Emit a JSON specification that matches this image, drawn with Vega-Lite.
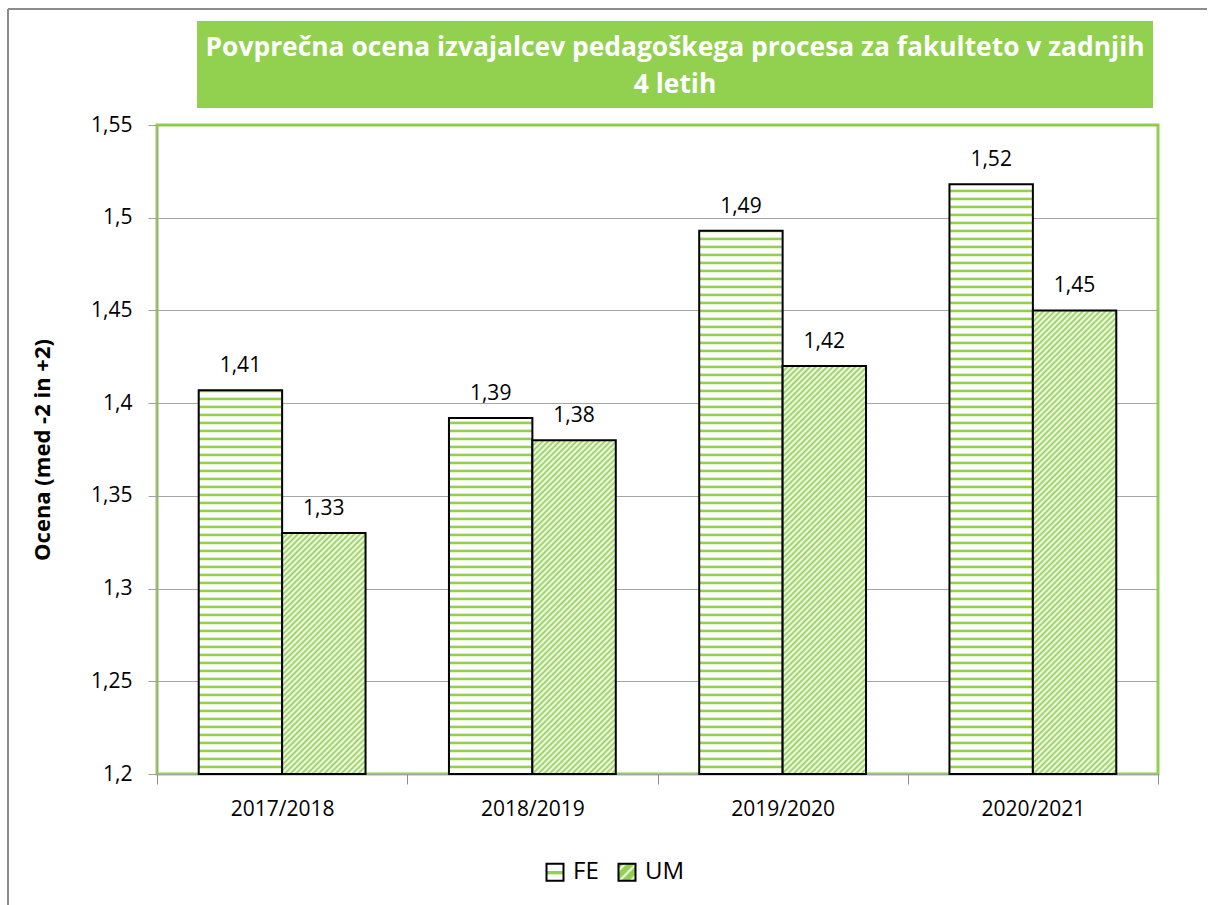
{
"$schema":"https://vega.github.io/schema/vega-lite/v6.json",
"width":1001,"height":649,
"padding":{"left":7,"top":7,"right":0,"bottom":0},
"background":"white",
"params":[
{"name":"feStops","value":[
{"offset":0.26,"color":"#92d050"},{"offset":0.262,"color":"#92d050"},{"offset":0.2635,"color":"#fff"},{"offset":0.269,"color":"#fff"},
{"offset":0.27,"color":"#92d050"},{"offset":0.272,"color":"#92d050"},{"offset":0.2735,"color":"#fff"},{"offset":0.279,"color":"#fff"},
{"offset":0.28,"color":"#92d050"},{"offset":0.282,"color":"#92d050"},{"offset":0.2835,"color":"#fff"},{"offset":0.289,"color":"#fff"},
{"offset":0.29,"color":"#92d050"},{"offset":0.292,"color":"#92d050"},{"offset":0.2935,"color":"#fff"},{"offset":0.299,"color":"#fff"},
{"offset":0.30,"color":"#92d050"},{"offset":0.302,"color":"#92d050"},{"offset":0.3035,"color":"#fff"},{"offset":0.309,"color":"#fff"},
{"offset":0.31,"color":"#92d050"},{"offset":0.312,"color":"#92d050"},{"offset":0.3135,"color":"#fff"},{"offset":0.319,"color":"#fff"},
{"offset":0.32,"color":"#92d050"},{"offset":0.322,"color":"#92d050"},{"offset":0.3235,"color":"#fff"},{"offset":0.329,"color":"#fff"},
{"offset":0.33,"color":"#92d050"},{"offset":0.332,"color":"#92d050"},{"offset":0.3335,"color":"#fff"},{"offset":0.339,"color":"#fff"},
{"offset":0.34,"color":"#92d050"},{"offset":0.342,"color":"#92d050"},{"offset":0.3435,"color":"#fff"},{"offset":0.349,"color":"#fff"},
{"offset":0.35,"color":"#92d050"},{"offset":0.352,"color":"#92d050"},{"offset":0.3535,"color":"#fff"},{"offset":0.359,"color":"#fff"},
{"offset":0.36,"color":"#92d050"},{"offset":0.362,"color":"#92d050"},{"offset":0.3635,"color":"#fff"},{"offset":0.369,"color":"#fff"},
{"offset":0.37,"color":"#92d050"},{"offset":0.372,"color":"#92d050"},{"offset":0.3735,"color":"#fff"},{"offset":0.379,"color":"#fff"},
{"offset":0.38,"color":"#92d050"},{"offset":0.382,"color":"#92d050"},{"offset":0.3835,"color":"#fff"},{"offset":0.389,"color":"#fff"},
{"offset":0.39,"color":"#92d050"},{"offset":0.392,"color":"#92d050"},{"offset":0.3935,"color":"#fff"},{"offset":0.399,"color":"#fff"},
{"offset":0.40,"color":"#92d050"},{"offset":0.402,"color":"#92d050"},{"offset":0.4035,"color":"#fff"},{"offset":0.409,"color":"#fff"},
{"offset":0.41,"color":"#92d050"},{"offset":0.412,"color":"#92d050"},{"offset":0.4135,"color":"#fff"},{"offset":0.419,"color":"#fff"},
{"offset":0.42,"color":"#92d050"},{"offset":0.422,"color":"#92d050"},{"offset":0.4235,"color":"#fff"},{"offset":0.429,"color":"#fff"},
{"offset":0.43,"color":"#92d050"},{"offset":0.432,"color":"#92d050"},{"offset":0.4335,"color":"#fff"},{"offset":0.439,"color":"#fff"},
{"offset":0.44,"color":"#92d050"},{"offset":0.442,"color":"#92d050"},{"offset":0.4435,"color":"#fff"},{"offset":0.449,"color":"#fff"},
{"offset":0.45,"color":"#92d050"},{"offset":0.452,"color":"#92d050"},{"offset":0.4535,"color":"#fff"},{"offset":0.459,"color":"#fff"},
{"offset":0.46,"color":"#92d050"},{"offset":0.462,"color":"#92d050"},{"offset":0.4635,"color":"#fff"},{"offset":0.469,"color":"#fff"},
{"offset":0.47,"color":"#92d050"},{"offset":0.472,"color":"#92d050"},{"offset":0.4735,"color":"#fff"},{"offset":0.479,"color":"#fff"},
{"offset":0.48,"color":"#92d050"},{"offset":0.482,"color":"#92d050"},{"offset":0.4835,"color":"#fff"},{"offset":0.489,"color":"#fff"},
{"offset":0.49,"color":"#92d050"},{"offset":0.492,"color":"#92d050"},{"offset":0.4935,"color":"#fff"},{"offset":0.499,"color":"#fff"},
{"offset":0.50,"color":"#92d050"},{"offset":0.502,"color":"#92d050"},{"offset":0.5035,"color":"#fff"},{"offset":0.509,"color":"#fff"},
{"offset":0.51,"color":"#92d050"},{"offset":0.512,"color":"#92d050"},{"offset":0.5135,"color":"#fff"},{"offset":0.519,"color":"#fff"},
{"offset":0.52,"color":"#92d050"},{"offset":0.522,"color":"#92d050"},{"offset":0.5235,"color":"#fff"},{"offset":0.529,"color":"#fff"},
{"offset":0.53,"color":"#92d050"},{"offset":0.532,"color":"#92d050"},{"offset":0.5335,"color":"#fff"},{"offset":0.539,"color":"#fff"},
{"offset":0.54,"color":"#92d050"},{"offset":0.542,"color":"#92d050"},{"offset":0.5435,"color":"#fff"},{"offset":0.549,"color":"#fff"},
{"offset":0.55,"color":"#92d050"},{"offset":0.552,"color":"#92d050"},{"offset":0.5535,"color":"#fff"},{"offset":0.559,"color":"#fff"},
{"offset":0.56,"color":"#92d050"},{"offset":0.562,"color":"#92d050"},{"offset":0.5635,"color":"#fff"},{"offset":0.569,"color":"#fff"},
{"offset":0.57,"color":"#92d050"},{"offset":0.572,"color":"#92d050"},{"offset":0.5735,"color":"#fff"},{"offset":0.579,"color":"#fff"},
{"offset":0.58,"color":"#92d050"},{"offset":0.582,"color":"#92d050"},{"offset":0.5835,"color":"#fff"},{"offset":0.589,"color":"#fff"},
{"offset":0.59,"color":"#92d050"},{"offset":0.592,"color":"#92d050"},{"offset":0.5935,"color":"#fff"},{"offset":0.599,"color":"#fff"},
{"offset":0.60,"color":"#92d050"},{"offset":0.602,"color":"#92d050"},{"offset":0.6035,"color":"#fff"},{"offset":0.609,"color":"#fff"},
{"offset":0.61,"color":"#92d050"},{"offset":0.612,"color":"#92d050"},{"offset":0.6135,"color":"#fff"},{"offset":0.619,"color":"#fff"},
{"offset":0.62,"color":"#92d050"},{"offset":0.622,"color":"#92d050"},{"offset":0.6235,"color":"#fff"},{"offset":0.629,"color":"#fff"},
{"offset":0.63,"color":"#92d050"},{"offset":0.632,"color":"#92d050"},{"offset":0.6335,"color":"#fff"},{"offset":0.639,"color":"#fff"},
{"offset":0.64,"color":"#92d050"},{"offset":0.642,"color":"#92d050"},{"offset":0.6435,"color":"#fff"},{"offset":0.649,"color":"#fff"},
{"offset":0.65,"color":"#92d050"},{"offset":0.652,"color":"#92d050"},{"offset":0.6535,"color":"#fff"},{"offset":0.659,"color":"#fff"},
{"offset":0.66,"color":"#92d050"},{"offset":0.662,"color":"#92d050"},{"offset":0.6635,"color":"#fff"},{"offset":0.669,"color":"#fff"},
{"offset":0.67,"color":"#92d050"},{"offset":0.672,"color":"#92d050"},{"offset":0.6735,"color":"#fff"},{"offset":0.679,"color":"#fff"},
{"offset":0.68,"color":"#92d050"},{"offset":0.682,"color":"#92d050"},{"offset":0.6835,"color":"#fff"},{"offset":0.689,"color":"#fff"},
{"offset":0.69,"color":"#92d050"},{"offset":0.692,"color":"#92d050"},{"offset":0.6935,"color":"#fff"},{"offset":0.699,"color":"#fff"},
{"offset":0.70,"color":"#92d050"},{"offset":0.702,"color":"#92d050"},{"offset":0.7035,"color":"#fff"},{"offset":0.709,"color":"#fff"},
{"offset":0.71,"color":"#92d050"},{"offset":0.712,"color":"#92d050"},{"offset":0.7135,"color":"#fff"},{"offset":0.719,"color":"#fff"},
{"offset":0.72,"color":"#92d050"},{"offset":0.722,"color":"#92d050"},{"offset":0.7235,"color":"#fff"},{"offset":0.729,"color":"#fff"},
{"offset":0.73,"color":"#92d050"},{"offset":0.732,"color":"#92d050"},{"offset":0.7335,"color":"#fff"},{"offset":0.739,"color":"#fff"},
{"offset":0.74,"color":"#92d050"},{"offset":0.742,"color":"#92d050"},{"offset":0.7435,"color":"#fff"},{"offset":0.749,"color":"#fff"},
{"offset":0.75,"color":"#92d050"},{"offset":0.752,"color":"#92d050"},{"offset":0.7535,"color":"#fff"},{"offset":0.759,"color":"#fff"},
{"offset":0.76,"color":"#92d050"},{"offset":0.762,"color":"#92d050"},{"offset":0.7635,"color":"#fff"},{"offset":0.769,"color":"#fff"},
{"offset":0.77,"color":"#92d050"},{"offset":0.772,"color":"#92d050"},{"offset":0.7735,"color":"#fff"},{"offset":0.779,"color":"#fff"},
{"offset":0.78,"color":"#92d050"},{"offset":0.782,"color":"#92d050"},{"offset":0.7835,"color":"#fff"},{"offset":0.789,"color":"#fff"},
{"offset":0.79,"color":"#92d050"},{"offset":0.792,"color":"#92d050"},{"offset":0.7935,"color":"#fff"},{"offset":0.799,"color":"#fff"},
{"offset":0.80,"color":"#92d050"},{"offset":0.802,"color":"#92d050"},{"offset":0.8035,"color":"#fff"},{"offset":0.809,"color":"#fff"},
{"offset":0.81,"color":"#92d050"},{"offset":0.812,"color":"#92d050"},{"offset":0.8135,"color":"#fff"},{"offset":0.819,"color":"#fff"},
{"offset":0.82,"color":"#92d050"},{"offset":0.822,"color":"#92d050"},{"offset":0.8235,"color":"#fff"},{"offset":0.829,"color":"#fff"},
{"offset":0.83,"color":"#92d050"},{"offset":0.832,"color":"#92d050"},{"offset":0.8335,"color":"#fff"},{"offset":0.839,"color":"#fff"},
{"offset":0.84,"color":"#92d050"},{"offset":0.842,"color":"#92d050"},{"offset":0.8435,"color":"#fff"},{"offset":0.849,"color":"#fff"},
{"offset":0.85,"color":"#92d050"},{"offset":0.852,"color":"#92d050"},{"offset":0.8535,"color":"#fff"},{"offset":0.859,"color":"#fff"},
{"offset":0.86,"color":"#92d050"},{"offset":0.862,"color":"#92d050"},{"offset":0.8635,"color":"#fff"},{"offset":0.869,"color":"#fff"},
{"offset":0.87,"color":"#92d050"},{"offset":0.872,"color":"#92d050"},{"offset":0.8735,"color":"#fff"},{"offset":0.879,"color":"#fff"},
{"offset":0.88,"color":"#92d050"},{"offset":0.882,"color":"#92d050"},{"offset":0.8835,"color":"#fff"},{"offset":0.889,"color":"#fff"},
{"offset":0.89,"color":"#92d050"},{"offset":0.892,"color":"#92d050"},{"offset":0.8935,"color":"#fff"},{"offset":0.899,"color":"#fff"},
{"offset":0.90,"color":"#92d050"},{"offset":0.902,"color":"#92d050"},{"offset":0.9035,"color":"#fff"},{"offset":0.909,"color":"#fff"},
{"offset":0.91,"color":"#92d050"},{"offset":0.912,"color":"#92d050"},{"offset":0.9135,"color":"#fff"},{"offset":0.919,"color":"#fff"},
{"offset":0.92,"color":"#92d050"},{"offset":0.922,"color":"#92d050"},{"offset":0.9235,"color":"#fff"},{"offset":0.929,"color":"#fff"},
{"offset":0.93,"color":"#92d050"},{"offset":0.932,"color":"#92d050"},{"offset":0.9335,"color":"#fff"},{"offset":0.939,"color":"#fff"},
{"offset":0.94,"color":"#92d050"},{"offset":0.942,"color":"#92d050"},{"offset":0.9435,"color":"#fff"},{"offset":0.949,"color":"#fff"},
{"offset":0.95,"color":"#92d050"},{"offset":0.952,"color":"#92d050"},{"offset":0.9535,"color":"#fff"},{"offset":0.959,"color":"#fff"},
{"offset":0.96,"color":"#92d050"},{"offset":0.962,"color":"#92d050"},{"offset":0.9635,"color":"#fff"},{"offset":0.969,"color":"#fff"},
{"offset":0.97,"color":"#92d050"},{"offset":0.972,"color":"#92d050"},{"offset":0.9735,"color":"#fff"},{"offset":0.979,"color":"#fff"},
{"offset":0.98,"color":"#92d050"},{"offset":0.982,"color":"#92d050"},{"offset":0.9835,"color":"#fff"},{"offset":0.989,"color":"#fff"},
{"offset":0.99,"color":"#92d050"},{"offset":0.992,"color":"#92d050"},{"offset":0.9935,"color":"#fff"},{"offset":1,"color":"#fff"}
]},
{"name":"umStops","value":[
{"offset":0,"color":"#92d050"},{"offset":0.005,"color":"#fff"},{"offset":0.01,"color":"#92d050"},{"offset":0.015,"color":"#fff"},
{"offset":0.02,"color":"#92d050"},{"offset":0.025,"color":"#fff"},{"offset":0.03,"color":"#92d050"},{"offset":0.035,"color":"#fff"},
{"offset":0.04,"color":"#92d050"},{"offset":0.045,"color":"#fff"},{"offset":0.05,"color":"#92d050"},{"offset":0.055,"color":"#fff"},
{"offset":0.06,"color":"#92d050"},{"offset":0.065,"color":"#fff"},{"offset":0.07,"color":"#92d050"},{"offset":0.075,"color":"#fff"},
{"offset":0.08,"color":"#92d050"},{"offset":0.085,"color":"#fff"},{"offset":0.09,"color":"#92d050"},{"offset":0.095,"color":"#fff"},
{"offset":0.10,"color":"#92d050"},{"offset":0.105,"color":"#fff"},{"offset":0.11,"color":"#92d050"},{"offset":0.115,"color":"#fff"},
{"offset":0.12,"color":"#92d050"},{"offset":0.125,"color":"#fff"},{"offset":0.13,"color":"#92d050"},{"offset":0.135,"color":"#fff"},
{"offset":0.14,"color":"#92d050"},{"offset":0.145,"color":"#fff"},{"offset":0.15,"color":"#92d050"},{"offset":0.155,"color":"#fff"},
{"offset":0.16,"color":"#92d050"},{"offset":0.165,"color":"#fff"},{"offset":0.17,"color":"#92d050"},{"offset":0.175,"color":"#fff"},
{"offset":0.18,"color":"#92d050"},{"offset":0.185,"color":"#fff"},{"offset":0.19,"color":"#92d050"},{"offset":0.195,"color":"#fff"},
{"offset":0.20,"color":"#92d050"},{"offset":0.205,"color":"#fff"},{"offset":0.21,"color":"#92d050"},{"offset":0.215,"color":"#fff"},
{"offset":0.22,"color":"#92d050"},{"offset":0.225,"color":"#fff"},{"offset":0.23,"color":"#92d050"},{"offset":0.235,"color":"#fff"},
{"offset":0.24,"color":"#92d050"},{"offset":0.245,"color":"#fff"},{"offset":0.25,"color":"#92d050"},{"offset":0.255,"color":"#fff"},
{"offset":0.26,"color":"#92d050"},{"offset":0.265,"color":"#fff"},{"offset":0.27,"color":"#92d050"},{"offset":0.275,"color":"#fff"},
{"offset":0.28,"color":"#92d050"},{"offset":0.285,"color":"#fff"},{"offset":0.29,"color":"#92d050"},{"offset":0.295,"color":"#fff"},
{"offset":0.30,"color":"#92d050"},{"offset":0.305,"color":"#fff"},{"offset":0.31,"color":"#92d050"},{"offset":0.315,"color":"#fff"},
{"offset":0.32,"color":"#92d050"},{"offset":0.325,"color":"#fff"},{"offset":0.33,"color":"#92d050"},{"offset":0.335,"color":"#fff"},
{"offset":0.34,"color":"#92d050"},{"offset":0.345,"color":"#fff"},{"offset":0.35,"color":"#92d050"},{"offset":0.355,"color":"#fff"},
{"offset":0.36,"color":"#92d050"},{"offset":0.365,"color":"#fff"},{"offset":0.37,"color":"#92d050"},{"offset":0.375,"color":"#fff"},
{"offset":0.38,"color":"#92d050"},{"offset":0.385,"color":"#fff"},{"offset":0.39,"color":"#92d050"},{"offset":0.395,"color":"#fff"},
{"offset":0.40,"color":"#92d050"},{"offset":0.405,"color":"#fff"},{"offset":0.41,"color":"#92d050"},{"offset":0.415,"color":"#fff"},
{"offset":0.42,"color":"#92d050"},{"offset":0.425,"color":"#fff"},{"offset":0.43,"color":"#92d050"},{"offset":0.435,"color":"#fff"},
{"offset":0.44,"color":"#92d050"},{"offset":0.445,"color":"#fff"},{"offset":0.45,"color":"#92d050"},{"offset":0.455,"color":"#fff"},
{"offset":0.46,"color":"#92d050"},{"offset":0.465,"color":"#fff"},{"offset":0.47,"color":"#92d050"},{"offset":0.475,"color":"#fff"},
{"offset":0.48,"color":"#92d050"},{"offset":0.485,"color":"#fff"},{"offset":0.49,"color":"#92d050"},{"offset":0.495,"color":"#fff"},
{"offset":0.50,"color":"#92d050"},{"offset":0.505,"color":"#fff"},{"offset":0.51,"color":"#92d050"},{"offset":0.515,"color":"#fff"},
{"offset":0.52,"color":"#92d050"},{"offset":0.525,"color":"#fff"},{"offset":0.53,"color":"#92d050"},{"offset":0.535,"color":"#fff"},
{"offset":0.54,"color":"#92d050"},{"offset":0.545,"color":"#fff"},{"offset":0.55,"color":"#92d050"},{"offset":0.555,"color":"#fff"},
{"offset":0.56,"color":"#92d050"},{"offset":0.565,"color":"#fff"},{"offset":0.57,"color":"#92d050"},{"offset":0.575,"color":"#fff"},
{"offset":0.58,"color":"#92d050"},{"offset":0.585,"color":"#fff"},{"offset":0.59,"color":"#92d050"},{"offset":0.595,"color":"#fff"},
{"offset":0.60,"color":"#92d050"},{"offset":0.605,"color":"#fff"},{"offset":0.61,"color":"#92d050"},{"offset":0.615,"color":"#fff"},
{"offset":0.62,"color":"#92d050"},{"offset":0.625,"color":"#fff"},{"offset":0.63,"color":"#92d050"},{"offset":0.635,"color":"#fff"},
{"offset":0.64,"color":"#92d050"},{"offset":0.645,"color":"#fff"},{"offset":0.65,"color":"#92d050"},{"offset":0.655,"color":"#fff"},
{"offset":0.66,"color":"#92d050"},{"offset":0.665,"color":"#fff"},{"offset":0.67,"color":"#92d050"},{"offset":0.675,"color":"#fff"},
{"offset":0.68,"color":"#92d050"},{"offset":0.685,"color":"#fff"},{"offset":0.69,"color":"#92d050"},{"offset":0.695,"color":"#fff"},
{"offset":0.70,"color":"#92d050"},{"offset":0.705,"color":"#fff"},{"offset":0.71,"color":"#92d050"},{"offset":0.715,"color":"#fff"},
{"offset":0.72,"color":"#92d050"},{"offset":0.725,"color":"#fff"},{"offset":0.73,"color":"#92d050"},{"offset":0.735,"color":"#fff"},
{"offset":0.74,"color":"#92d050"},{"offset":0.745,"color":"#fff"},{"offset":0.75,"color":"#92d050"},{"offset":0.755,"color":"#fff"},
{"offset":0.76,"color":"#92d050"},{"offset":0.765,"color":"#fff"},{"offset":0.77,"color":"#92d050"},{"offset":0.775,"color":"#fff"},
{"offset":0.78,"color":"#92d050"},{"offset":0.785,"color":"#fff"},{"offset":0.79,"color":"#92d050"},{"offset":0.795,"color":"#fff"},
{"offset":0.80,"color":"#92d050"},{"offset":0.805,"color":"#fff"},{"offset":0.81,"color":"#92d050"},{"offset":0.815,"color":"#fff"},
{"offset":0.82,"color":"#92d050"},{"offset":0.825,"color":"#fff"},{"offset":0.83,"color":"#92d050"},{"offset":0.835,"color":"#fff"},
{"offset":0.84,"color":"#92d050"},{"offset":0.845,"color":"#fff"},{"offset":0.85,"color":"#92d050"},{"offset":0.855,"color":"#fff"},
{"offset":0.86,"color":"#92d050"},{"offset":0.865,"color":"#fff"},{"offset":0.87,"color":"#92d050"},{"offset":0.875,"color":"#fff"},
{"offset":0.88,"color":"#92d050"},{"offset":0.885,"color":"#fff"},{"offset":0.89,"color":"#92d050"},{"offset":0.895,"color":"#fff"},
{"offset":0.90,"color":"#92d050"},{"offset":0.905,"color":"#fff"},{"offset":0.91,"color":"#92d050"},{"offset":0.915,"color":"#fff"},
{"offset":0.92,"color":"#92d050"},{"offset":0.925,"color":"#fff"},{"offset":0.93,"color":"#92d050"},{"offset":0.935,"color":"#fff"},
{"offset":0.94,"color":"#92d050"},{"offset":0.945,"color":"#fff"},{"offset":0.95,"color":"#92d050"},{"offset":0.955,"color":"#fff"},
{"offset":0.96,"color":"#92d050"},{"offset":0.965,"color":"#fff"},{"offset":0.97,"color":"#92d050"},{"offset":0.975,"color":"#fff"},
{"offset":0.98,"color":"#92d050"},{"offset":0.985,"color":"#fff"},{"offset":0.99,"color":"#92d050"},{"offset":0.995,"color":"#fff"},
{"offset":1,"color":"#92d050"}
]}
],
"data":{"values":[
{"yr":"2017/2018","s":"FE","v":1.407},{"yr":"2017/2018","s":"UM","v":1.33},
{"yr":"2018/2019","s":"FE","v":1.392},{"yr":"2018/2019","s":"UM","v":1.38},
{"yr":"2019/2020","s":"FE","v":1.493},{"yr":"2019/2020","s":"UM","v":1.42},
{"yr":"2020/2021","s":"FE","v":1.518},{"yr":"2020/2021","s":"UM","v":1.45}
]},
"layer":[
{"mark":{"type":"bar","strokeWidth":2,
"fill":{"expr":"!datum.s ? (datum.value === 'FE' ? {gradient:'linear',x1:0,y1:0,x2:0,y2:1,stops:[{offset:0,color:'#fff'},{offset:0.4,color:'#fff'},{offset:0.45,color:'#92d050'},{offset:0.6,color:'#92d050'},{offset:0.65,color:'#fff'},{offset:1,color:'#fff'}]} : {gradient:'linear',x1:0,y1:0,x2:1,y2:1,stops:[{offset:0,color:'#92d050'},{offset:0.12,color:'#92d050'},{offset:0.2,color:'#fff'},{offset:0.28,color:'#92d050'},{offset:0.45,color:'#92d050'},{offset:0.53,color:'#fff'},{offset:0.61,color:'#92d050'},{offset:0.78,color:'#92d050'},{offset:0.86,color:'#fff'},{offset:0.94,color:'#92d050'},{offset:1,color:'#92d050'}]}) : datum.s === 'FE' ? {gradient: 'linear', x1: 0, x2: 0, y1: 1 - 800 / max(1, scale('y', 1.2) - scale('y', datum.v)), y2: 1, stops: feStops} : {gradient: 'linear', x1: 0, y1: 0, x2: 47178.1 / (6955.56 + pow(scale('y', 1.2) - scale('y', datum.v), 2)), y2: 565.685 * (scale('y', 1.2) - scale('y', datum.v)) / (6955.56 + pow(scale('y', 1.2) - scale('y', datum.v), 2)), stops: umStops}"}},
"encoding":{
"x":{"field":"yr","type":"nominal","sort":null,"scale":{"paddingInner":0,"paddingOuter":0},
"axis":{"title":null,"labelAngle":0,"tickBand":"extent","domain":false,"ticks":true,"tickColor":"#8c8c8c","tickSize":10,"labelFontSize":21,"labelPadding":14,"labelColor":"#000","labelFont":"Open Sans"}},
"xOffset":{"field":"s","type":"nominal","sort":["FE","UM"],"scale":{"paddingInner":0,"paddingOuter":0.5}},
"y":{"field":"v","type":"quantitative","scale":{"domain":[1.2,1.55],"nice":false,"zero":false},
"axis":{"title":"Ocena (med -2 in +2)","values":[1.2,1.25,1.3,1.35,1.4,1.45,1.5,1.55],"labelExpr":"replace(format(datum.value,'.2~f'),'.',',')","grid":true,"gridColor":"#a6a6a6","gridWidth":1,"domainColor":"#a0a0a0","tickColor":"#a0a0a0","tickSize":9,"labelFontSize":21,"labelPadding":16,"labelColor":"#000","labelFont":"Open Sans","titleFont":"Open Sans","titleFontSize":22,"titleFontWeight":"bold","titleColor":"#000","titlePadding":36}},
"y2":{"datum":1.2},
"stroke":{"field":"s","type":"nominal","scale":{"domain":["FE","UM"],"range":["#000","#000"]},
"legend":{"title":null,"orient":"none","legendX":386,"legendY":735,"direction":"horizontal","symbolType":"square","symbolSize":289,"symbolStrokeWidth":2,"labelFontSize":24,"labelFont":"Open Sans","labelColor":"#000","labelOffset":6,"columnPadding":15,"padding":0,"symbolOpacity":1}}
}},
{"mark":{"type":"text","baseline":"alphabetic","align":"center","dy":-18,"fontSize":21,"font":"Open Sans","color":"#000",
"text":{"expr":"replace(format(datum.v,'.2f'),'.',',')"}},
"encoding":{
"x":{"field":"yr","type":"nominal","sort":null,"scale":{"paddingInner":0,"paddingOuter":0},"axis":null},
"xOffset":{"field":"s","type":"nominal","sort":["FE","UM"],"scale":{"paddingInner":0,"paddingOuter":0.5}},
"y":{"field":"v","type":"quantitative"}}},
{"data":{"values":[{"k":1}]},
"mark":{"type":"rect","fill":"#92d050"},
"encoding":{
"x":{"datum":0.04,"type":"quantitative","scale":{"domain":[0,1],"nice":false,"zero":false},"axis":null},
"x2":{"datum":0.995},
"y":{"datum":1.6061,"type":"quantitative"},
"y2":{"datum":1.5592}}},
{"data":{"values":[{"k":1}]},
"mark":{"type":"text","text":["Povprečna ocena izvajalcev pedagoškega procesa za fakulteto v zadnjih","4 letih"],"font":"Open Sans","fontWeight":"bold","fontSize":26.4,"color":"#fff","lineHeight":37,"baseline":"middle","align":"center"},
"encoding":{
"x":{"datum":0.5175,"type":"quantitative","scale":{"domain":[0,1],"nice":false,"zero":false},"axis":null},
"y":{"datum":1.5915,"type":"quantitative"}}},
{"data":{"values":[{"k":1}]},
"mark":{"type":"rule","stroke":"#8c8c8c","strokeWidth":2},
"encoding":{
"x":{"datum":-0.14885,"type":"quantitative","scale":{"domain":[0,1],"nice":false,"zero":false},"axis":null},
"x2":{"datum":1.04895},
"y":{"datum":1.61256,"type":"quantitative"}}},
{"data":{"values":[{"k":1}]},
"mark":{"type":"rule","stroke":"#8c8c8c","strokeWidth":2},
"encoding":{
"x":{"datum":-0.14885,"type":"quantitative","scale":{"domain":[0,1],"nice":false,"zero":false},"axis":null},
"y":{"datum":1.61256,"type":"quantitative"},
"y2":{"datum":1.12935}}}
],
"resolve":{"scale":{"x":"independent"},"axis":{"x":"independent"}},
"config":{"view":{"stroke":"#92d050","strokeWidth":3},"font":"Open Sans"}
}
